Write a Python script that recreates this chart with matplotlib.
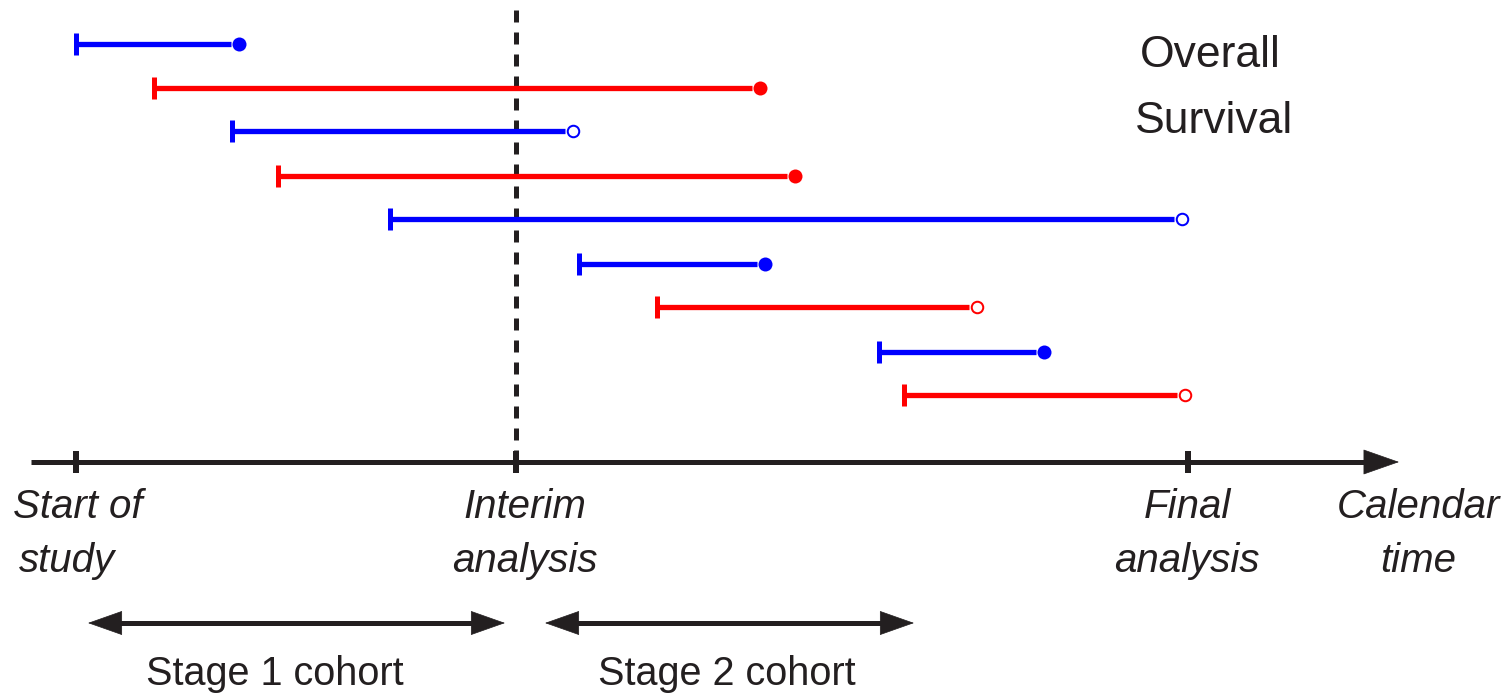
import matplotlib
matplotlib.use("Agg")
import matplotlib.pyplot as plt

# ---------------- data (calendar time, pixel-like units) ----------------
entry_time = [76, 154, 232, 278, 390, 579, 657, 879, 904]
exit_time = [239, 760, 573, 795, 1182, 765, 977, 1044, 1185]
row_pos = [44, 88, 131, 176, 219, 264, 307, 352, 395]
arm = ["blue", "red", "blue", "red", "blue", "blue", "red", "blue", "red"]
event = [True, True, False, True, False, True, False, True, False]  # filled = event, open = censored

milestone_time = [76, 516, 1188]
milestone_lines = [("Start of", "study"), ("Interim", "analysis"), ("Final", "analysis")]
milestone_text_x1 = [13, 525, 1187]
milestone_text_x2 = [19, 525, 1187]
milestone_ha = ["left", "center", "center"]
axis_label_lines = ("Calendar", "time")
axis_label_x = 1418
interim_time = 516

cohort_names = ["Stage 1 cohort", "Stage 2 cohort"]
cohort_start = [88, 545]
cohort_end = [505, 914]
cohort_label_x = [275, 727]

title_lines = ("Overall", "Survival")

# ---------------- styling ----------------
PX = 0.72  # points per pixel at dpi 100
INK = "#231f20"
COLORS = {"blue": "#0000ff", "red": "#ff0000"}
FONT = "Liberation Sans"

fig = plt.figure(figsize=(15.12, 6.97), dpi=100)
ax = fig.add_axes([0, 0, 1, 1])
ax.set_xlim(0, 1512)
ax.set_ylim(697, 0)
ax.axis("off")

axis_y = 462
gap = 8

# patient segments
for s, e, y, a, ev in zip(entry_time, exit_time, row_pos, arm, event):
    c = COLORS[a]
    ax.plot([s, e - gap], [y, y], color=c, lw=5.3 * PX, solid_capstyle="butt", zorder=3)
    ax.plot([s], [y], marker="|", markersize=23 * PX, markeredgewidth=5 * PX, color=c, zorder=4)
    if ev:
        ax.plot([e], [y], marker="o", markersize=14 * PX, markerfacecolor=c,
                markeredgewidth=0, color=c, zorder=4)
    else:
        ax.plot([e], [y], marker="o", markersize=11.5 * PX, markerfacecolor="white",
                markeredgecolor=c, markeredgewidth=2 * PX, zorder=4)

# interim dashed line
ax.plot([interim_time, interim_time], [10, axis_y], color=INK, lw=5 * PX,
        linestyle=(0, (2.4, 2.0)), zorder=2)

# time axis
ax.plot([31, 1372], [axis_y, axis_y], color=INK, lw=5 * PX, solid_capstyle="butt", zorder=2)
ax.annotate("", xy=(1399, axis_y), xytext=(1360, axis_y),
            arrowprops=dict(arrowstyle="-|>,head_length=24.5,head_width=8.6",
                            mutation_scale=1, lw=0.5, color=INK, shrinkA=0, shrinkB=0),
            zorder=2)
ax.plot(milestone_time, [axis_y] * len(milestone_time), linestyle="none", marker="|",
        markersize=23 * PX, markeredgewidth=6 * PX, color=INK, zorder=3)

# milestone labels
fs_lab = 29
line1_base, line2_base = 518, 572
for lines, x1, x2, ha in zip(milestone_lines, milestone_text_x1, milestone_text_x2, milestone_ha):
    ax.text(x1, line1_base, lines[0], ha=ha, va="baseline", fontsize=fs_lab,
            style="italic", family=FONT, color=INK)
    ax.text(x2, line2_base, lines[1], ha=ha, va="baseline", fontsize=fs_lab,
            style="italic", family=FONT, color=INK)
ax.text(axis_label_x, line1_base, axis_label_lines[0], ha="center", va="baseline",
        fontsize=fs_lab, style="italic", family=FONT, color=INK)
ax.text(axis_label_x, line2_base, axis_label_lines[1], ha="center", va="baseline",
        fontsize=fs_lab, style="italic", family=FONT, color=INK)

# title
ax.text(1210, 67, title_lines[0], ha="center", va="baseline", fontsize=32, family=FONT, color=INK)
ax.text(1214, 133, title_lines[1], ha="center", va="baseline", fontsize=32, family=FONT, color=INK)

# cohort arrows
cohort_y = 623
for name, s, e, lx in zip(cohort_names, cohort_start, cohort_end, cohort_label_x):
    ax.plot([s + 20, e - 20], [cohort_y, cohort_y], color=INK, lw=5 * PX,
            solid_capstyle="butt", zorder=2)
    ax.annotate("", xy=(e, cohort_y), xytext=(s, cohort_y),
                arrowprops=dict(arrowstyle="<|-|>,head_length=23.5,head_width=8.3",
                                mutation_scale=1, lw=0.5, color=INK, shrinkA=0, shrinkB=0),
                zorder=2)
    ax.text(lx, 685, name, ha="center", va="baseline", fontsize=28.5,
            family=FONT, color=INK)

fig.savefig("out.png", dpi=100)
